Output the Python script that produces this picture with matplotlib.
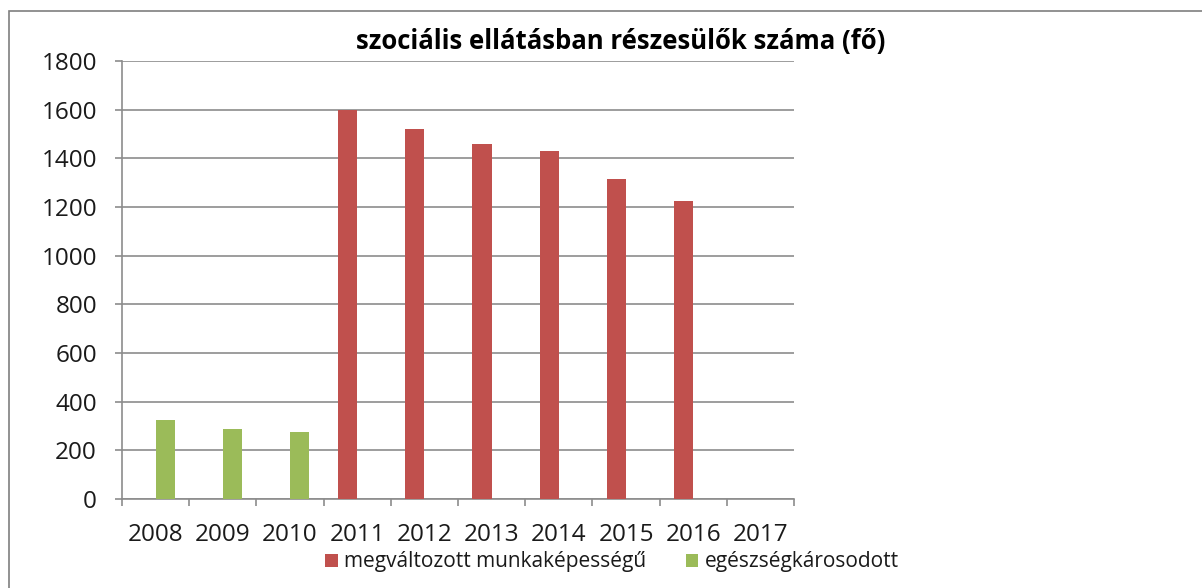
import numpy as np
import matplotlib
matplotlib.use("Agg")
import matplotlib.pyplot as plt
from matplotlib.patches import Rectangle

years = ["2008", "2009", "2010", "2011", "2012", "2013", "2014", "2015", "2016", "2017"]
megvaltozott = [np.nan, np.nan, np.nan, 1598, 1519, 1457, 1430, 1314, 1223, np.nan]
egeszseg = [323, 286, 275, np.nan, np.nan, np.nan, np.nan, np.nan, np.nan, np.nan]
series_names = ["megváltozott munkaképességű", "egészségkárosodott"]
title = "szociális ellátásban részesülők száma (fő)"

RED = "#C0504D"
GREEN = "#9BBB59"
GRID = "#8C8C8C"

plt.rcParams['font.family'] = ['Open Sans', 'DejaVu Sans']

fig = plt.figure(figsize=(12.02, 5.88), dpi=100)
ax = fig.add_axes([122/1202, 1-499/588, (794-122)/1202, (499-61)/588])

x = np.arange(len(years))
w = 1/3.5
b1 = ax.bar(x - w/2, megvaltozott, width=w, color=RED, label=series_names[0], zorder=3)
b2 = ax.bar(x + w/2, egeszseg, width=w, color=GREEN, label=series_names[1], zorder=3)

ax.set_xlim(-0.5, len(years) - 0.5)
ax.set_ylim(0, 1800)
ax.set_yticks(np.arange(0, 1801, 200))
ax.yaxis.grid(True, color=GRID, linewidth=1.2, zorder=0)
ax.set_axisbelow(True)

ax.set_xticks(np.arange(-0.5, len(years), 1))
ax.set_xticklabels([])
ax.set_xticks(x, minor=True)
ax.set_xticklabels(years, minor=True)
ax.tick_params(axis='x', which='major', length=5, color=GRID, width=1.2, direction='out')
ax.tick_params(axis='x', which='minor', length=0, labelsize=17.5, pad=17, labelcolor='#1a1a1a')
ax.tick_params(axis='y', length=5, color=GRID, width=1.2, labelsize=17.5, pad=13, labelcolor='#1a1a1a')

for s in ['top', 'right']:
    ax.spines[s].set_visible(False)
for s in ['left', 'bottom']:
    ax.spines[s].set_color(GRID)
    ax.spines[s].set_linewidth(1.2)

fig.text(621/1202, 1-49/588, title, ha='center', va='baseline', fontsize=18.5,
         fontweight='bold', family=['Open Sans', 'DejaVu Sans'])

leg = fig.legend(handles=[b1, b2], loc='center', bbox_to_anchor=(612/1202, 1-562/588),
                 ncol=2, frameon=False, fontsize=15, handlelength=0.6, handleheight=0.6,
                 handletextpad=0.3, columnspacing=1.9, borderpad=0, borderaxespad=0)
for t in leg.get_texts():
    t.set_color('#1a1a1a')

# chart border
fig.patches.append(Rectangle((9/1202, -0.1), 1.2, 1-11/588+0.1, transform=fig.transFigure,
                             fill=False, edgecolor='#7f7f7f', linewidth=1.2))

fig.savefig("out.png", dpi=100)
